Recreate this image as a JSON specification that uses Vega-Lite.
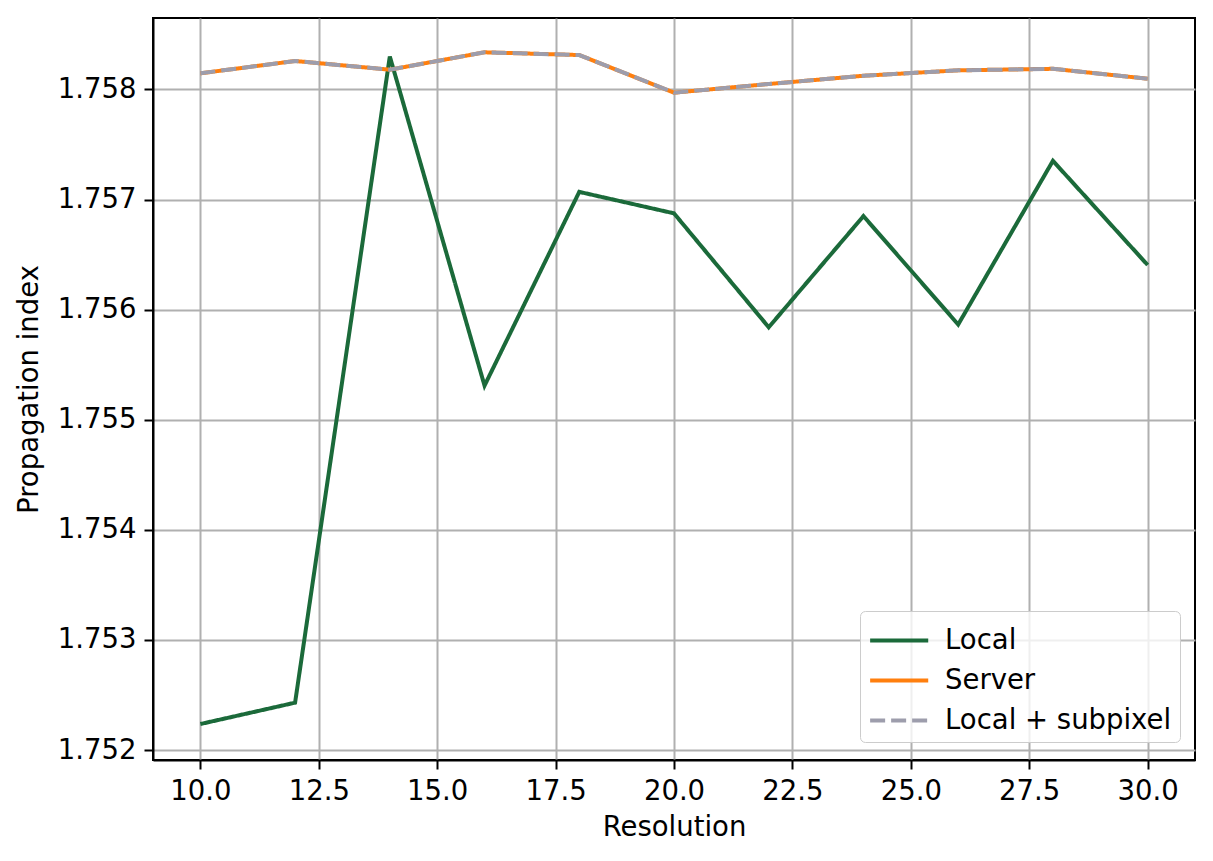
{
  "$schema": "https://vega.github.io/schema/vega-lite/v6.json",
  "width": 1042,
  "height": 742,
  "autosize": "none",
  "padding": {"left": 153, "top": 18, "right": 18, "bottom": 101},
  "background": "white",
  "config": {
    "font": "DejaVu Sans",
    "view": {"stroke": "black", "strokeWidth": 2},
    "axis": {
      "labelFont": "DejaVu Sans",
      "titleFont": "DejaVu Sans",
      "labelFontSize": 27.5,
      "titleFontSize": 27.5,
      "titleFontWeight": "normal",
      "labelColor": "black",
      "titleColor": "black",
      "domainColor": "black",
      "domainWidth": 2,
      "tickColor": "black",
      "tickWidth": 2,
      "tickSize": 9,
      "labelPadding": 8,
      "gridColor": "#b0b0b0",
      "gridWidth": 2,
      "gridOpacity": 1
    },
    "legend": {
      "labelFont": "DejaVu Sans",
      "labelFontSize": 27.5,
      "labelColor": "black",
      "labelLimit": 0
    }
  },
  "datasets": {
    "series": [
      {"x": 10, "y": 1.752236, "series": "Local"},
      {"x": 12, "y": 1.752430, "series": "Local"},
      {"x": 14, "y": 1.758300, "series": "Local"},
      {"x": 16, "y": 1.755310, "series": "Local"},
      {"x": 18, "y": 1.757070, "series": "Local"},
      {"x": 20, "y": 1.756875, "series": "Local"},
      {"x": 22, "y": 1.755840, "series": "Local"},
      {"x": 24, "y": 1.756850, "series": "Local"},
      {"x": 26, "y": 1.755865, "series": "Local"},
      {"x": 28, "y": 1.757352, "series": "Local"},
      {"x": 30, "y": 1.756406, "series": "Local"},
      {"x": 10, "y": 1.758147, "series": "Server"},
      {"x": 12, "y": 1.758259, "series": "Server"},
      {"x": 14, "y": 1.758180, "series": "Server"},
      {"x": 16, "y": 1.758338, "series": "Server"},
      {"x": 18, "y": 1.758313, "series": "Server"},
      {"x": 20, "y": 1.757971, "series": "Server"},
      {"x": 22, "y": 1.758050, "series": "Server"},
      {"x": 24, "y": 1.758125, "series": "Server"},
      {"x": 26, "y": 1.758174, "series": "Server"},
      {"x": 28, "y": 1.758188, "series": "Server"},
      {"x": 30, "y": 1.758098, "series": "Server"},
      {"x": 10, "y": 1.758147, "series": "Local + subpixel"},
      {"x": 12, "y": 1.758259, "series": "Local + subpixel"},
      {"x": 14, "y": 1.758180, "series": "Local + subpixel"},
      {"x": 16, "y": 1.758338, "series": "Local + subpixel"},
      {"x": 18, "y": 1.758313, "series": "Local + subpixel"},
      {"x": 20, "y": 1.757971, "series": "Local + subpixel"},
      {"x": 22, "y": 1.758050, "series": "Local + subpixel"},
      {"x": 24, "y": 1.758125, "series": "Local + subpixel"},
      {"x": 26, "y": 1.758174, "series": "Local + subpixel"},
      {"x": 28, "y": 1.758188, "series": "Local + subpixel"},
      {"x": 30, "y": 1.758098, "series": "Local + subpixel"}
    ]
  },
  "data": {"name": "series"},
  "encoding": {
    "x": {
      "field": "x",
      "type": "quantitative",
      "title": "Resolution",
      "scale": {"domain": [9, 31], "nice": false, "zero": false},
      "axis": {"values": [10, 12.5, 15, 17.5, 20, 22.5, 25, 27.5, 30], "format": ".1f", "titlePadding": 9}
    },
    "y": {
      "field": "y",
      "type": "quantitative",
      "title": "Propagation index",
      "scale": {"domain": [1.7519092, 1.7586495], "nice": false, "zero": false},
      "axis": {"values": [1.752, 1.753, 1.754, 1.755, 1.756, 1.757, 1.758], "format": ".3f", "titlePadding": 14}
    },
    "color": {
      "field": "series",
      "type": "nominal",
      "title": null,
      "scale": {"domain": ["Local", "Server", "Local + subpixel"], "range": ["#1b6a3a", "#ff7f0e", "#9d9dac"]},
      "legend": {
        "orient": "none",
        "legendX": 707,
        "legendY": 593,
        "symbolType": "M-1,0L2,0",
        "symbolSize": 1500,
        "symbolStrokeWidth": 4,
        "labelOffset": 34,
        "padding": 8,
        "rowPadding": 5,
        "fillColor": "rgba(255,255,255,0.8)",
        "strokeColor": "#cccccc",
        "cornerRadius": 5
      }
    },
    "strokeDash": {
      "field": "series",
      "type": "nominal",
      "title": null,
      "scale": {"domain": ["Local", "Server", "Local + subpixel"], "range": [[1, 0], [1, 0], [15, 6]]}
    }
  },
  "layer": [
    {"transform": [{"filter": "datum.series === 'Local'"}], "mark": {"type": "line", "strokeWidth": 4}},
    {"transform": [{"filter": "datum.series === 'Server'"}], "mark": {"type": "line", "strokeWidth": 4}},
    {"transform": [{"filter": "datum.series === 'Local + subpixel'"}], "mark": {"type": "line", "strokeWidth": 4}}
  ]
}
